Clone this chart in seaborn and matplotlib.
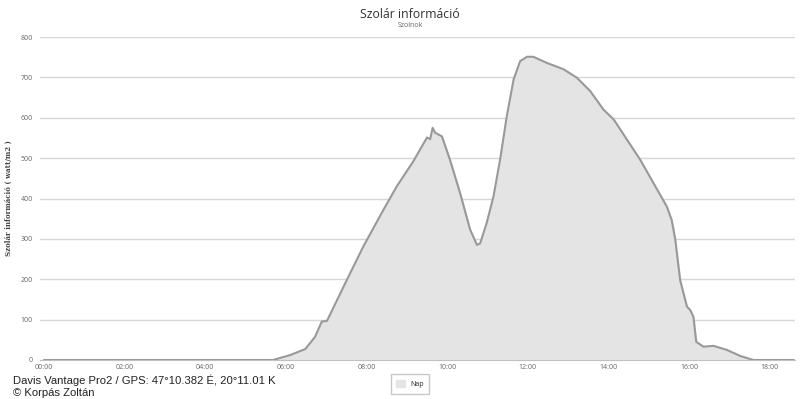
import matplotlib
matplotlib.use("Agg")
import matplotlib.pyplot as plt
import matplotlib.patches as mpatches
import seaborn as sns
import pandas as pd

# Solar radiation readings (hour of day, W/m2)
hours = [0, 5.6, 5.68, 6.1, 6.48, 6.72, 6.89, 7.02, 7.51, 7.92, 8.42, 8.75, 9.16,
         9.5, 9.58, 9.64, 9.70, 9.87, 10.07, 10.32, 10.57, 10.74, 10.82, 10.98,
         11.15, 11.32, 11.48, 11.65, 11.81, 11.98, 12.14, 12.47, 12.89, 13.22,
         13.55, 13.88, 14.13, 14.46, 14.79, 15.12, 15.45, 15.57, 15.66, 15.78,
         15.95, 16.03, 16.11, 16.18, 16.36, 16.61, 16.94, 17.27, 17.6, 18.6]
watts = [0, 0, 0, 12, 27, 57, 95, 97, 198, 281, 372, 430, 492,
         551, 547, 575, 563, 554, 496, 414, 323, 285, 289, 339,
         405, 500, 604, 695, 740, 751, 751, 736, 720, 699,
         666, 620, 596, 546, 496, 438, 380, 347, 298, 198,
         132, 124, 107, 45, 33, 35, 25, 10, 0, 0]
tick_hours = [0, 2, 4, 6, 8, 10, 12, 14, 16, 18]
tick_labels = ["00:00", "02:00", "04:00", "06:00", "08:00", "10:00",
               "12:00", "14:00", "16:00", "18:00"]
y_ticks = [0, 100, 200, 300, 400, 500, 600, 700, 800]

df = pd.DataFrame({"hour": hours, "watt": watts})

sns.set_style("white")
plt.rcParams["font.family"] = ["Open Sans", "DejaVu Sans"]

fig = plt.figure(figsize=(8.09, 3.99), dpi=100)
ax = fig.add_axes([40 / 809, 39 / 399, 755 / 809, 323 / 399])

ax.fill_between(df["hour"], df["watt"], color="#e4e4e4", zorder=2)
sns.lineplot(data=df, x="hour", y="watt", ax=ax, color="#999999", linewidth=1.5, zorder=3)

ax.set_xlim(-0.1, 18.63)
ax.set_ylim(0, 800)
ax.set_yticks(y_ticks)
ax.set_xticks(tick_hours)
ax.set_xticklabels(tick_labels)
ax.grid(axis="y", color="#d6d6d6", linewidth=1, zorder=0)
for s in ["top", "right", "left"]:
    ax.spines[s].set_visible(False)
ax.spines["bottom"].set_color("#c0c0c0")
ax.tick_params(axis="both", length=0, labelsize=5, labelcolor="#666666")
ax.tick_params(axis="x", pad=3)
ax.tick_params(axis="y", pad=5)
ax.set_xlabel("")
ax.set_ylabel("Szolár információ ( watt/m2 )", fontsize=5, color="#444444",
              family="DejaVu Serif", fontweight="bold", labelpad=6)

fig.text(0.507, 0.963, "Szolár információ", ha="center", va="center", fontsize=8.8, color="#333333")
fig.text(0.507, 0.937, "Szolnok", ha="center", va="center", fontsize=5, color="#666666")

fig.text(13 / 809, 1 - 380 / 399, "Davis Vantage Pro2 / GPS: 47°10.382 É, 20°11.01 K",
         ha="left", va="center", fontsize=8.1, family="Liberation Sans", color="#222222")
fig.text(13 / 809, 1 - 393 / 399, "© Korpás Zoltán",
         ha="left", va="center", fontsize=8.1, family="Liberation Sans", color="#222222")

handle = mpatches.Patch(facecolor="#e4e4e4", edgecolor="#e4e4e4", label="Nap")
fig.legend(handles=[handle], loc="center", bbox_to_anchor=(0.507, 1 - 384 / 399),
           fontsize=5, frameon=True, edgecolor="#bbbbbb", fancybox=False,
           handlelength=1.2, handleheight=1.2, borderpad=0.8, handletextpad=0.8)

fig.savefig("out.png", dpi=100)
